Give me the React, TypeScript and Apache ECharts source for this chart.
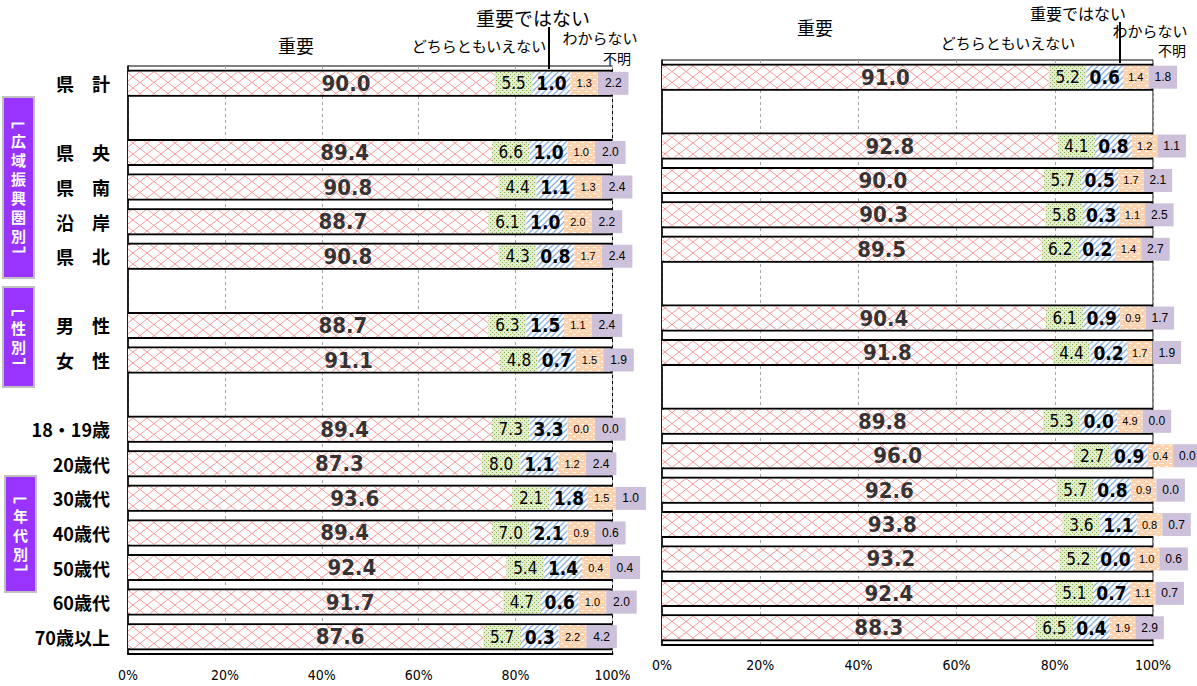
import React, { useEffect, useRef } from 'react';
import * as echarts from 'echarts';

// ---------- DATA ----------
const categories = ['県　計', ' ', '県　央', '県　南', '沿　岸', '県　北', '  ', '男　性', '女　性', '   ', '18・19歳', '20歳代', '30歳代', '40歳代', '50歳代', '60歳代', '70歳以上'];
const seriesNames = ['重要', 'どちらともいえない', '重要ではない', 'わからない', '不明'];
const xTicks = [0, 20, 40, 60, 80, 100];

const leftImportant = [90.0, null, 89.4, 90.8, 88.7, 90.8, null, 88.7, 91.1, null, 89.4, 87.3, 93.6, 89.4, 92.4, 91.7, 87.6];
const leftNeutral = [5.5, null, 6.6, 4.4, 6.1, 4.3, null, 6.3, 4.8, null, 7.3, 8.0, 2.1, 7.0, 5.4, 4.7, 5.7];
const leftNotImportant = [1.0, null, 1.0, 1.1, 1.0, 0.8, null, 1.5, 0.7, null, 3.3, 1.1, 1.8, 2.1, 1.4, 0.6, 0.3];
const leftDontKnow = [1.3, null, 1.0, 1.3, 2.0, 1.7, null, 1.1, 1.5, null, 0.0, 1.2, 1.5, 0.9, 0.4, 1.0, 2.2];
const leftUnknown = [2.2, null, 2.0, 2.4, 2.2, 2.4, null, 2.4, 1.9, null, 0.0, 2.4, 1.0, 0.6, 0.4, 2.0, 4.2];

const rightImportant = [91.0, null, 92.8, 90.0, 90.3, 89.5, null, 90.4, 91.8, null, 89.8, 96.0, 92.6, 93.8, 93.2, 92.4, 88.3];
const rightNeutral = [5.2, null, 4.1, 5.7, 5.8, 6.2, null, 6.1, 4.4, null, 5.3, 2.7, 5.7, 3.6, 5.2, 5.1, 6.5];
const rightNotImportant = [0.6, null, 0.8, 0.5, 0.3, 0.2, null, 0.9, 0.2, null, 0.0, 0.9, 0.8, 1.1, 0.0, 0.7, 0.4];
const rightDontKnow = [1.4, null, 1.2, 1.7, 1.1, 1.4, null, 0.9, 1.7, null, 4.9, 0.4, 0.9, 0.8, 1.0, 1.1, 1.9];
const rightUnknown = [1.8, null, 1.1, 2.1, 2.5, 2.7, null, 1.7, 1.9, null, 0.0, 0.0, 0.0, 0.7, 0.6, 0.7, 2.9];

const groupLabels = ['広域振興圏別', '性別', '年代別'];

// ---------- LAYOUT (display rule: small answers shown as minimum-width boxes) ----------
const MIN_W_LEFT = [7.8, 7.8, 5.7, 6.3];
const MIN_W_RIGHT = [7.6, 7.5, 5.2, 5.8];
const SHIFT_LEFT = 14.3;
const SHIFT_RIGHT = 12.2;

const JP = '"Noto Sans CJK JP", "Noto Sans", sans-serif';
const NUM = '"Liberation Sans Narrow", "DejaVu Sans Condensed", "Liberation Sans", sans-serif';

function tile(w: number, h: number, draw: (ctx: CanvasRenderingContext2D) => void) {
  const c = document.createElement('canvas');
  c.width = w;
  c.height = h;
  const ctx = c.getContext('2d') as CanvasRenderingContext2D;
  draw(ctx);
  return { image: c, repeat: 'repeat', imageWidth: w, imageHeight: h } as any;
}

function makePatterns() {
  const red = tile(14, 11, (ctx) => {
    ctx.fillStyle = '#ffffff';
    ctx.fillRect(0, 0, 14, 11);
    ctx.strokeStyle = '#f59a9a';
    ctx.lineWidth = 1;
    ctx.beginPath();
    ctx.moveTo(0, 5.5); ctx.lineTo(7, 0); ctx.lineTo(14, 5.5); ctx.lineTo(7, 11); ctx.closePath();
    ctx.stroke();
  });
  const green = tile(4, 4, (ctx) => {
    ctx.fillStyle = '#e4edcf';
    ctx.fillRect(0, 0, 4, 4);
    ctx.fillStyle = '#86ad4c';
    ctx.fillRect(0, 0, 1, 1);
    ctx.fillRect(2, 2, 1, 1);
  });
  const blue = tile(6, 6, (ctx) => {
    ctx.fillStyle = '#ffffff';
    ctx.fillRect(0, 0, 6, 6);
    ctx.strokeStyle = '#8db3e2';
    ctx.lineWidth = 1.4;
    ctx.beginPath();
    ctx.moveTo(-1, 7); ctx.lineTo(7, -1);
    ctx.moveTo(-4, 4); ctx.lineTo(4, -4);
    ctx.moveTo(2, 10); ctx.lineTo(10, 2);
    ctx.stroke();
  });
  const orange = tile(8, 6, (ctx) => {
    ctx.fillStyle = '#fbd3b0';
    ctx.fillRect(0, 0, 8, 6);
    ctx.fillStyle = '#ffffff';
    ctx.fillRect(1, 1, 3, 1);
    ctx.fillRect(5, 4, 3, 1);
  });
  return [red, green, blue, orange, '#ccc0da'];
}

function buildPanel(
  idx: number,
  values: (number | null)[][],
  minW: number[],
  shift: number,
  patterns: any[]
) {
  const xAxisIndex = idx;
  const yAxisIndex = idx * 2;
  const frameYAxis = idx * 2 + 1;
  const series: any[] = [];
  series.push({
    type: 'bar',
    name: 'frame' + idx,
    xAxisIndex,
    yAxisIndex: frameYAxis,
    barWidth: 27,
    z: 1,
    silent: true,
    data: values[0].map((v) => (v == null ? '-' : 100)),
    itemStyle: { color: 'rgba(0,0,0,0)', borderColor: '#000', borderWidth: 2 },
  });
  const labelStyles = [
    null,
    { fontSize: 17, fontWeight: 'normal', fontFamily: NUM },
    { fontSize: 19, fontWeight: 'bold', fontFamily: NUM },
    { fontSize: 11, fontWeight: 'normal', fontFamily: '"Liberation Sans", sans-serif' },
    { fontSize: 12, fontWeight: 'normal', fontFamily: '"Liberation Sans", sans-serif' },
  ];
  values.forEach((arr, k) => {
    series.push({
      type: 'bar',
      name: seriesNames[k],
      xAxisIndex,
      yAxisIndex,
      stack: 'stack' + idx,
      barWidth: 23,
      clip: false,
      z: 2,
      silent: true,
      data: arr.map((v) =>
        v == null ? '-' : { value: k === 0 ? v - shift : Math.max(v, minW[k - 1]), actual: v }
      ),
      itemStyle: { color: patterns[k], borderWidth: 0 },
      label:
        k === 0
          ? { show: false }
          : {
              show: true,
              position: 'inside',
              color: '#000',
              ...(labelStyles[k] as any),
              formatter: (p: any) => (p.data && p.data.actual != null ? p.data.actual.toFixed(1) : ''),
            },
    });
  });
  // label of the main answer, placed at the centre of its true value
  series.push({
    type: 'scatter',
    name: 'label' + idx,
    xAxisIndex,
    yAxisIndex,
    symbolSize: 0,
    z: 5,
    silent: true,
    data: values[0]
      .map((v, i) => (v == null ? null : { value: [v / 2, i], actual: v }))
      .filter((d) => d != null),
    label: {
      show: true,
      position: 'inside',
      color: '#000',
      fontSize: 22,
      fontWeight: 'bold',
      fontFamily: NUM,
      formatter: (p: any) => p.data.actual.toFixed(1),
    },
  });
  return series;
}

function xAxis(gridIndex: number, margin: number) {
  return {
    type: 'value',
    gridIndex,
    min: xTicks[0],
    max: xTicks[xTicks.length - 1],
    interval: xTicks[1] - xTicks[0],
    axisLine: { show: true, onZero: false, lineStyle: { color: '#000', width: 2 } },
    axisTick: { show: false },
    axisLabel: {
      color: '#000',
      fontSize: 14,
      fontFamily: NUM,
      margin,
      formatter: '{value}%',
    },
    splitLine: { show: true, lineStyle: { color: '#a6a6a6', type: [3, 3], width: 1 } },
  };
}

function headerTexts(items: { text: string; x: number; y: number; size: number }[]) {
  return items.map((it) => ({
    type: 'text',
    x: it.x,
    y: it.y,
    silent: true,
    style: {
      text: it.text,
      fill: '#000',
      fontSize: it.size,
      fontFamily: JP,
      textAlign: 'center',
      verticalAlign: 'middle',
    },
  }));
}

function sideBox(x: number, y: number, w: number, h: number, label: string) {
  const cx = x + w / 2;
  const chars = Array.from(label);
  const step = 19;
  const n = chars.length;
  const textTop = y + h / 2 - (n * step) / 2;
  const textBottom = y + h / 2 + (n * step) / 2;
  const bw = 6;
  const els: any[] = [
    {
      type: 'rect',
      silent: true,
      shape: { x, y, width: w, height: h },
      style: { fill: '#9933ff', stroke: '#c0c0c0', lineWidth: 2 },
    },
    {
      type: 'polyline',
      silent: true,
      shape: { points: [[cx - bw, textTop - 2], [cx - bw, textTop - 7], [cx + bw, textTop - 7]] },
      style: { stroke: '#ffffff', lineWidth: 2, fill: 'none' },
    },
    {
      type: 'polyline',
      silent: true,
      shape: { points: [[cx - bw, textBottom + 7], [cx + bw, textBottom + 7], [cx + bw, textBottom + 2]] },
      style: { stroke: '#ffffff', lineWidth: 2, fill: 'none' },
    },
  ];
  chars.forEach((ch, i) => {
    els.push({
      type: 'text',
      silent: true,
      x: cx,
      y: textTop + step * (i + 0.5),
      style: {
        text: ch,
        fill: '#ffffff',
        fontSize: 15,
        fontWeight: 'bold',
        fontFamily: JP,
        textAlign: 'center',
        verticalAlign: 'middle',
      },
    });
  });
  return els;
}

export default function App() {
  const ref = useRef<HTMLDivElement>(null);
  useEffect(() => {
    if (!ref.current) return;
    const chart = echarts.init(ref.current, null, { renderer: 'svg' });
    const patterns = makePatterns();
    const leftValues = [leftImportant, leftNeutral, leftNotImportant, leftDontKnow, leftUnknown];
    const rightValues = [rightImportant, rightNeutral, rightNotImportant, rightDontKnow, rightUnknown];

    const option: any = {
      animation: false,
      backgroundColor: '#ffffff',
      grid: [
        { left: 128, top: 66, width: 484.5, height: 588, show: true, borderColor: '#000', borderWidth: 1, backgroundColor: 'transparent' },
        { left: 662, top: 60, width: 491, height: 585, show: true, borderColor: '#000', borderWidth: 1, backgroundColor: 'transparent' },
      ],
      xAxis: [xAxis(0, 14), xAxis(1, 13)],
      yAxis: [
        {
          type: 'category',
          gridIndex: 0,
          data: categories,
          inverse: true,
          axisLine: { show: true, lineStyle: { color: '#000', width: 1.5 } },
          axisTick: { show: false },
          splitLine: { show: false },
          axisLabel: { color: '#000', fontSize: 18, fontWeight: 'bold', fontFamily: JP, margin: 18 },
        },
        { type: 'category', gridIndex: 0, data: categories, inverse: true, show: false },
        {
          type: 'category',
          gridIndex: 1,
          data: categories,
          inverse: true,
          axisLine: { show: true, lineStyle: { color: '#000', width: 1.5 } },
          axisTick: { show: false },
          splitLine: { show: false },
          axisLabel: { show: false },
        },
        { type: 'category', gridIndex: 1, data: categories, inverse: true, show: false },
      ],
      series: [
        ...buildPanel(0, leftValues, MIN_W_LEFT, SHIFT_LEFT, patterns),
        ...buildPanel(1, rightValues, MIN_W_RIGHT, SHIFT_RIGHT, patterns),
      ],
      graphic: [
        ...headerTexts([
          { text: seriesNames[0], x: 296, y: 45, size: 18 },
          { text: seriesNames[1], x: 479, y: 45, size: 15 },
          { text: seriesNames[2], x: 533, y: 17, size: 19 },
          { text: seriesNames[3], x: 600, y: 37, size: 15 },
          { text: seriesNames[4], x: 617, y: 58, size: 14 },
          { text: seriesNames[0], x: 815, y: 27, size: 18 },
          { text: seriesNames[1], x: 1008, y: 42, size: 15 },
          { text: seriesNames[2], x: 1078, y: 13, size: 16 },
          { text: seriesNames[3], x: 1150, y: 30, size: 15 },
          { text: seriesNames[4], x: 1172, y: 50, size: 14 },
        ]),
        { type: 'line', silent: true, shape: { x1: 549, y1: 27, x2: 549, y2: 69 }, style: { stroke: '#000', lineWidth: 2 } },
        { type: 'line', silent: true, shape: { x1: 1120, y1: 22, x2: 1120, y2: 63 }, style: { stroke: '#000', lineWidth: 2 } },
        ...sideBox(3, 97, 31, 181, groupLabels[0]),
        ...sideBox(3, 287, 31, 100, groupLabels[1]),
        ...sideBox(5, 476, 31, 116, groupLabels[2]),
      ],
    };
    chart.setOption(option);
    return () => chart.dispose();
  }, []);
  return <div ref={ref} style={{ position: 'absolute', left: 0, top: 0, width: 1197, height: 686 }} />;
}
